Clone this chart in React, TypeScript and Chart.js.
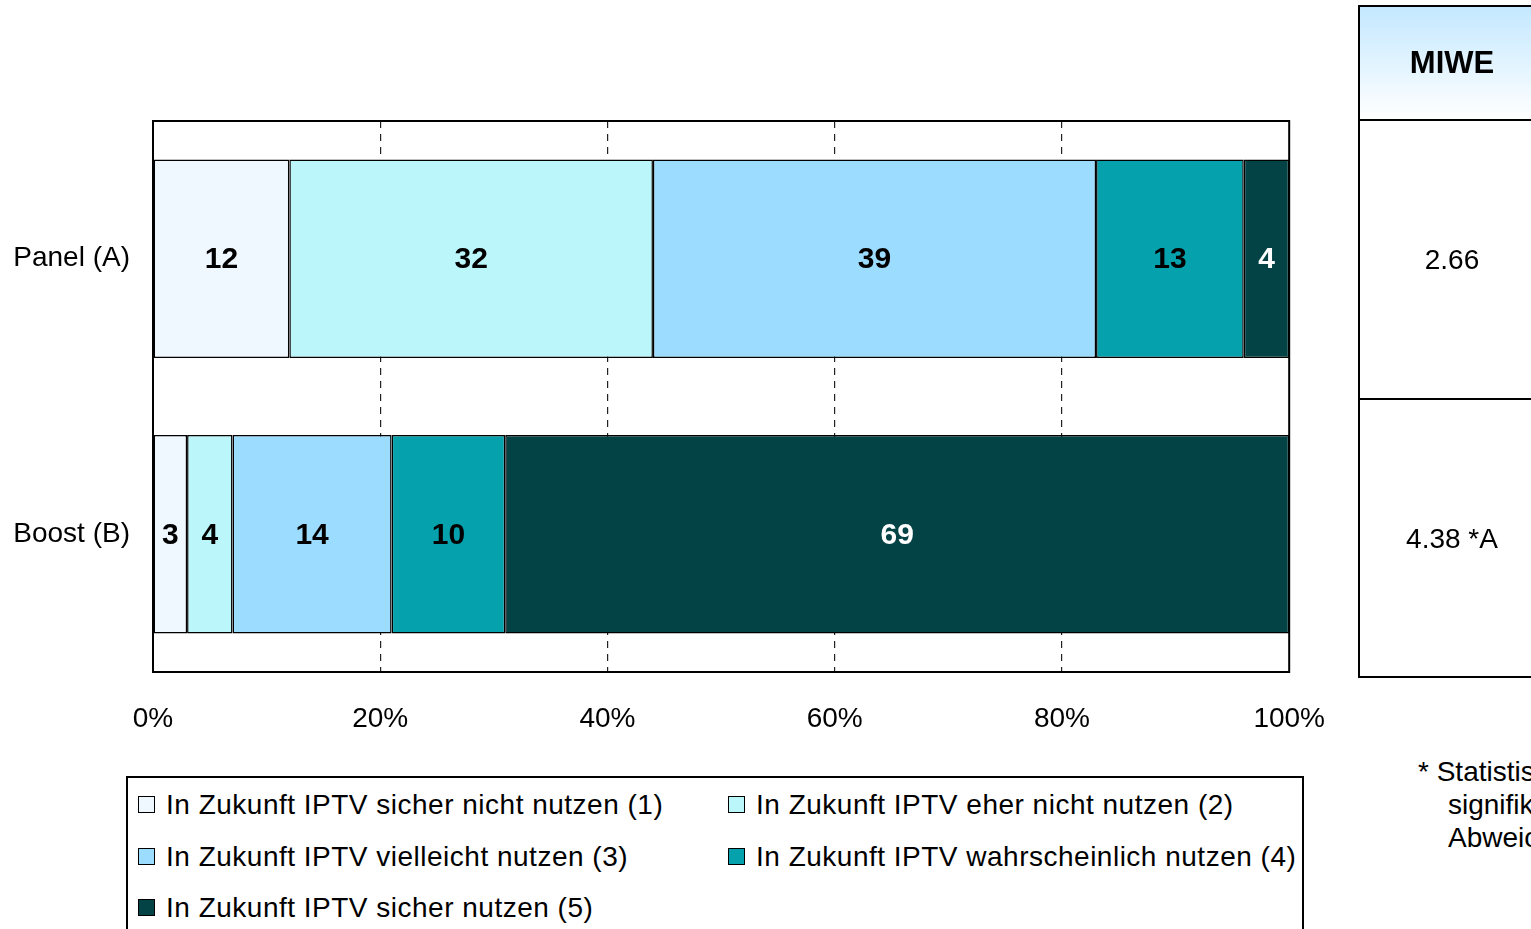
import React, { useEffect, useRef } from "react";
import { Chart, registerables } from "chart.js";

Chart.register(...registerables);

const categories = ["Panel (A)", "Boost (B)"];
const seriesLabels = [
  "In Zukunft IPTV sicher nicht nutzen (1)",
  "In Zukunft IPTV eher nicht nutzen (2)",
  "In Zukunft IPTV vielleicht nutzen (3)",
  "In Zukunft IPTV wahrscheinlich nutzen (4)",
  "In Zukunft IPTV sicher nutzen (5)",
];
const sicherNicht = [12, 3];
const eherNicht = [32, 4];
const vielleicht = [39, 14];
const wahrscheinlich = [13, 10];
const sicher = [4, 69];
const seriesColors = ["#F0F8FF", "#BBF6FA", "#9CDDFF", "#05A1AD", "#034346"];
const labelColors = ["#000000", "#000000", "#000000", "#000000", "#FFFFFF"];
const xTicks = [0, 20, 40, 60, 80, 100];
const miweHeader = "MIWE";
const miweValues = ["2.66", "4.38 *A"];
const footnote = ["* Statistisch", "signifikante", "Abweichung"];

const FONT = "'Liberation Sans', Arial, Helvetica, sans-serif";

const frameAndLabels = {
  id: "frameAndLabels",
  afterDatasetsDraw(chart: any) {
    const ctx = chart.ctx;
    ctx.save();
    ctx.font = `bold 30px ${FONT}`;
    ctx.textAlign = "center";
    ctx.textBaseline = "middle";
    chart.data.datasets.forEach((ds: any, di: number) => {
      const meta = chart.getDatasetMeta(di);
      meta.data.forEach((el: any, i: number) => {
        const v = ds.data[i];
        if (!v) return;
        const p = el.getCenterPoint();
        ctx.fillStyle = labelColors[di];
        ctx.fillText(String(v), p.x, p.y + 1);
      });
    });
    const a = chart.chartArea;
    ctx.strokeStyle = "#000";
    ctx.lineWidth = 2;
    ctx.strokeRect(a.left, a.top, a.right - a.left, a.bottom - a.top);
    ctx.restore();
  },
};

function ChartCanvas() {
  const ref = useRef<HTMLCanvasElement | null>(null);
  useEffect(() => {
    if (!ref.current) return;
    const data = [sicherNicht, eherNicht, vielleicht, wahrscheinlich, sicher];
    const chart = new Chart(ref.current, {
      type: "bar",
      data: {
        labels: categories,
        datasets: data.map((d, i) => ({
          label: seriesLabels[i],
          data: d,
          backgroundColor: seriesColors[i],
          borderColor: "#000",
          borderWidth: 1.5,
          borderSkipped: false,
          barPercentage: 0.72,
          categoryPercentage: 1,
        })),
      },
      options: {
        indexAxis: "y",
        animation: false,
        responsive: false,
        layout: { padding: { top: 121, right: 0, left: 0, bottom: 0 } },
        plugins: { legend: { display: false }, tooltip: { enabled: false } },
        scales: {
          x: {
            stacked: true,
            min: 0,
            max: 100,
            afterBuildTicks: (scale: any) => {
              scale.ticks = xTicks.map((v) => ({ value: v }));
            },
            afterFit: (scale: any) => {
              scale.height = 98;
            },
            ticks: {
              callback: (v: any) => v + "%",
              color: "#000",
              font: { family: FONT, size: 28 },
              padding: 30,
              maxRotation: 0,
            },
            grid: {
              drawTicks: false,
              color: (c: any) =>
                c.tick && (c.tick.value === 0 || c.tick.value === 100) ? "rgba(0,0,0,0)" : "#222",
              lineWidth: 1.2,
            },
            border: { display: false, dash: [7, 6] },
          },
          y: {
            stacked: true,
            afterFit: (scale: any) => {
              scale.width = 153;
            },
            ticks: {
              color: "#000",
              font: { family: FONT, size: 28 },
              padding: 23,
            },
            grid: { display: false, drawTicks: false },
            border: { display: false },
          },
        },
      },
      plugins: [frameAndLabels],
    } as any);
    return () => chart.destroy();
  }, []);
  return (
    <canvas
      ref={ref}
      width={1355}
      height={770}
      style={{ position: "absolute", left: 0, top: 0, width: 1355, height: 770 }}
    />
  );
}

export default function App() {
  const textBase: React.CSSProperties = {
    position: "absolute",
    fontFamily: FONT,
    fontSize: 28,
    color: "#000",
    whiteSpace: "nowrap",
  };
  const legendPos = [
    { left: 138, top: 805 },
    { left: 728, top: 805 },
    { left: 138, top: 857 },
    { left: 728, top: 857 },
    { left: 138, top: 908 },
  ];
  return (
    <div
      style={{
        position: "absolute",
        left: 0,
        top: 0,
        width: 1531,
        height: 929,
        overflow: "hidden",
        background: "#fff",
      }}
    >
      <ChartCanvas />
      {/* Legend */}
      <div
        style={{
          position: "absolute",
          left: 126,
          top: 776,
          width: 1178,
          height: 200,
          border: "2px solid #000",
          boxSizing: "border-box",
        }}
      />
      {seriesLabels.map((l, i) => (
        <React.Fragment key={l}>
          <div
            style={{
              position: "absolute",
              left: legendPos[i].left,
              top: legendPos[i].top - 9,
              width: 17,
              height: 17,
              background: seriesColors[i],
              border: "1px solid #000",
              boxSizing: "border-box",
            }}
          />
          <div
            style={{
              ...textBase,
              left: legendPos[i].left + 28,
              top: legendPos[i].top - 17,
              lineHeight: "34px",
              letterSpacing: 0.5,
            }}
          >
            {l}
          </div>
        </React.Fragment>
      ))}
      {/* MIWE table */}
      <div
        style={{
          position: "absolute",
          left: 1358,
          top: 5,
          width: 200,
          height: 673,
          border: "2px solid #000",
          boxSizing: "border-box",
        }}
      >
        <div
          style={{
            position: "absolute",
            left: 0,
            top: 0,
            right: 0,
            height: 112,
            background: "linear-gradient(#C4E8FF, #FFFFFF)",
            borderBottom: "2px solid #000",
          }}
        />
        <div
          style={{
            position: "absolute",
            left: 0,
            top: 391,
            right: 0,
            height: 0,
            borderTop: "2px solid #000",
          }}
        />
      </div>
      <div
        style={{
          ...textBase,
          left: 1352,
          width: 200,
          textAlign: "center",
          top: 45,
          lineHeight: "36px",
          fontWeight: "bold",
          fontSize: 31,
        }}
      >
        {miweHeader}
      </div>
      {miweValues.map((v, i) => (
        <div
          key={v}
          style={{
            ...textBase,
            left: 1352,
            width: 200,
            textAlign: "center",
            top: (i === 0 ? 260 : 539) - 17,
            lineHeight: "34px",
          }}
        >
          {v}
        </div>
      ))}
      {footnote.map((f, i) => (
        <div
          key={f}
          style={{
            ...textBase,
            left: i === 0 ? 1418 : 1448,
            top: 772 - 17 + i * 33,
            lineHeight: "34px",
          }}
        >
          {f}
        </div>
      ))}
    </div>
  );
}
